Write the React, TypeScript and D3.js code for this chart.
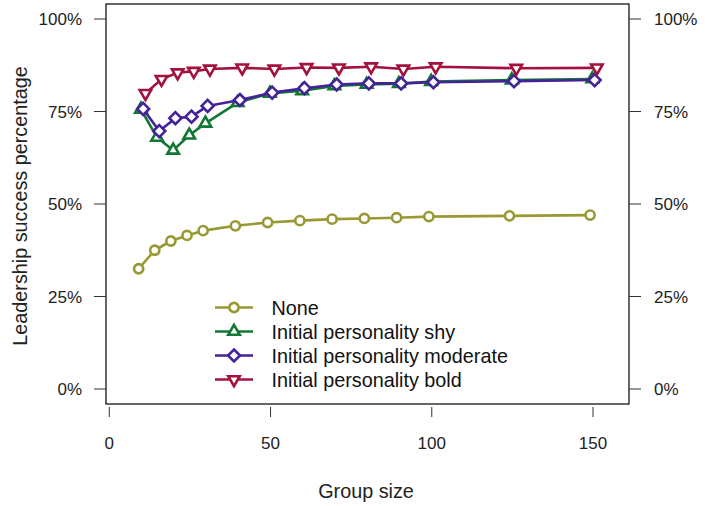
import * as d3 from "d3";

// group sizes simulated
const groupSizes = [10, 15, 20, 25, 30, 40, 50, 60, 70, 80, 90, 100, 125, 150];

// leadership success share per condition
const noneVals = [0.325, 0.375, 0.4, 0.415, 0.428, 0.441, 0.45, 0.455, 0.459, 0.461, 0.463, 0.466, 0.468, 0.47];
const shyVals = [0.756, 0.68, 0.645, 0.686, 0.718, 0.774, 0.799, 0.806, 0.819, 0.823, 0.825, 0.831, 0.835, 0.838];
const moderateVals = [0.757, 0.697, 0.732, 0.736, 0.765, 0.781, 0.801, 0.813, 0.823, 0.826, 0.826, 0.829, 0.832, 0.835];
const boldVals = [0.799, 0.837, 0.855, 0.859, 0.865, 0.868, 0.865, 0.869, 0.868, 0.871, 0.865, 0.871, 0.867, 0.868];

const seriesNames = ["None", "Initial personality shy", "Initial personality moderate", "Initial personality bold"];
const seriesColors = ["#999933", "#117733", "#44229a", "#a3123e"];
const seriesShapes = ["circle", "triangle", "diamond", "triangleDown"];
// small horizontal dodge so the markers don't sit on top of each other
const seriesDodge = [-0.9, -0.2, 0.5, 1.2];

const xTicks = [0, 50, 100, 150];
const yTicks = [0, 0.25, 0.5, 0.75, 1];

const W = 706, H = 506;
const box = { left: 106, right: 629, top: 4, bottom: 404 };
const font = "'Liberation Sans', Arial, Helvetica, sans-serif";
const tickSize = 17;
const labSize = 19.8;

const x = d3.scaleLinear().domain([0, 150]).range([109.3, 593]);
const y = d3.scaleLinear().domain([0, 1]).range([389, 19]);

function markerPath(shape: string, cx: number, cy: number) {
  if (shape === "circle") {
    const p = d3.path();
    p.moveTo(cx + 4.6, cy);
    p.arc(cx, cy, 4.6, 0, Math.PI * 2);
    return p.toString();
  }
  if (shape === "diamond") {
    const r = 6;
    return `M${cx},${cy - r}L${cx + r},${cy}L${cx},${cy + r}L${cx - r},${cy}Z`;
  }
  const s = 11.5, h = s * Math.sqrt(3) / 2;
  if (shape === "triangle") {
    return `M${cx},${cy - (2 * h) / 3}L${cx + s / 2},${cy + h / 3}L${cx - s / 2},${cy + h / 3}Z`;
  }
  return `M${cx},${cy + (2 * h) / 3}L${cx + s / 2},${cy - h / 3}L${cx - s / 2},${cy - h / 3}Z`;
}

export default function App() {
  const allVals = [noneVals, shyVals, moderateVals, boldVals];
  const line = d3.line<[number, number]>().x(d => d[0]).y(d => d[1]);
  const pct = d3.format(".0%");

  const legendX = 215, legendY = 307.5, legendStep = 24;

  return (
    <svg width={W} height={H} style={{ position: "absolute", left: 0, top: 0, background: "white" }} fontFamily={font}>
      {/* plot box */}
      <rect x={box.left} y={box.top} width={box.right - box.left} height={box.bottom - box.top}
        fill="none" stroke="black" strokeWidth={1.2} />

      {/* y axes, both sides */}
      {yTicks.map(t => (
        <g key={"y" + t}>
          <line x1={box.left - 12} x2={box.left} y1={y(t)} y2={y(t)} stroke="#333" strokeWidth={1} />
          <text x={82} y={y(t)} dy="0.36em" textAnchor="end" fontSize={tickSize} fill="#222">{pct(t)}</text>
          <line x1={box.right} x2={box.right + 12} y1={y(t)} y2={y(t)} stroke="#333" strokeWidth={1} />
          <text x={654} y={y(t)} dy="0.36em" textAnchor="start" fontSize={tickSize} fill="#222">{pct(t)}</text>
        </g>
      ))}

      {/* x axis */}
      {xTicks.map(t => (
        <g key={"x" + t}>
          <line x1={x(t)} x2={x(t)} y1={407} y2={417} stroke="#333" strokeWidth={1} />
          <text x={x(t)} y={443} dy="0.36em" textAnchor="middle" fontSize={tickSize} fill="#222">{t}</text>
        </g>
      ))}

      <text x={366} y={491} dy="0.36em" textAnchor="middle" fontSize={labSize} fill="#222">Group size</text>
      <text transform={`translate(20,206) rotate(-90)`} dy="0.36em" textAnchor="middle" fontSize={labSize} fill="#222">
        Leadership success percentage
      </text>

      {/* series */}
      {allVals.map((vals, i) => {
        const pts: [number, number][] = vals.map((v, j) => [x(groupSizes[j] + seriesDodge[i]), y(v)]);
        return (
          <g key={seriesNames[i]} stroke={seriesColors[i]} fill="none" strokeWidth={2.6}>
            <path d={line(pts) || ""} strokeLinejoin="round" />
            {pts.map((p, j) => (
              <path key={j} d={markerPath(seriesShapes[i], p[0], p[1])} fill="white" strokeLinejoin="miter" />
            ))}
          </g>
        );
      })}

      {/* legend */}
      {seriesNames.map((name, i) => {
        const ly = legendY + i * legendStep;
        return (
          <g key={"leg" + i}>
            <line x1={legendX} x2={legendX + 38} y1={ly} y2={ly} stroke={seriesColors[i]} strokeWidth={2.6} />
            <path d={markerPath(seriesShapes[i], legendX + 19, ly)} fill="white" stroke={seriesColors[i]} strokeWidth={2.6} />
            <text x={271.5} y={ly} dy="0.36em" fontSize={labSize} fill="#111">{name}</text>
          </g>
        );
      })}
    </svg>
  );
}
